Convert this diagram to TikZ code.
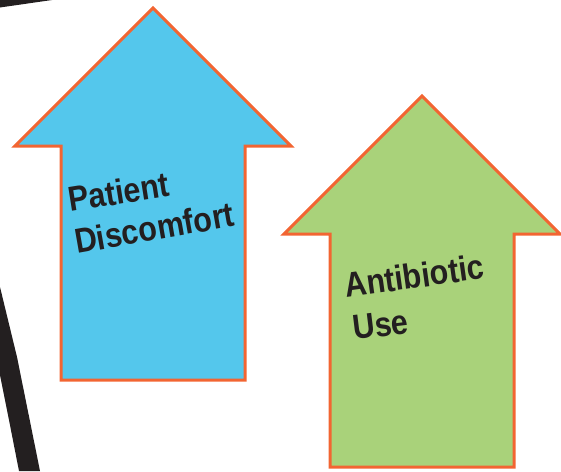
\documentclass[tikz,border=0pt]{standalone}
\usepackage{graphicx}
\usepackage{fontspec}
\setmainfont{Liberation Sans}
\definecolor{arrowblue}{HTML}{54C7EC}
\definecolor{arrowgreen}{HTML}{A9D27A}
\definecolor{edgeorange}{HTML}{F26532}
\definecolor{inkblack}{HTML}{231F20}
\newcommand{\lbltext}[1]{\scalebox{0.985}[1.12]{#1}}
\tikzset{
  bigarrow/.style={draw=edgeorange,line width=3pt,miter limit=10,line join=miter},
  label/.style={inner sep=0pt,text=inkblack,anchor=base west,font=\fontsize{31}{31}\selectfont\bfseries},
  stroke/.style={fill=inkblack,draw=none}
}
\begin{document}
\begin{tikzpicture}[x=1pt,y=-1pt]
\useasboundingbox (0,0) rectangle (561,471);
\fill[stroke] (0,0) -- (52,0) -- (0,7.5) -- cycle;
\fill[stroke] (0,287) -- (17,357) -- (40,471) -- (19,471) -- (8,415) -- (0,375) -- cycle;
\draw[bigarrow,fill=arrowblue] (153,8) -- (291,146) -- (245,146) -- (245,380) -- (61,380) -- (61,146) -- (15,146) -- cycle;
\draw[bigarrow,fill=arrowgreen] (422,96) -- (560,234) -- (514,234) -- (514,467) -- (330,467) -- (330,234) -- (284,234) -- cycle;
\node[label,rotate=9] (patient) at (70,212) {\lbltext{Patient}};
\node[label,rotate=10] (discomfort) at (77,254) {\lbltext{Discomfort}};
\node[label,rotate=8] (antibiotic) at (346,298) {\lbltext{Antibiotic}};
\node[label,rotate=7] (use) at (354,340) {\lbltext{Use}};
\end{tikzpicture}
\end{document}
